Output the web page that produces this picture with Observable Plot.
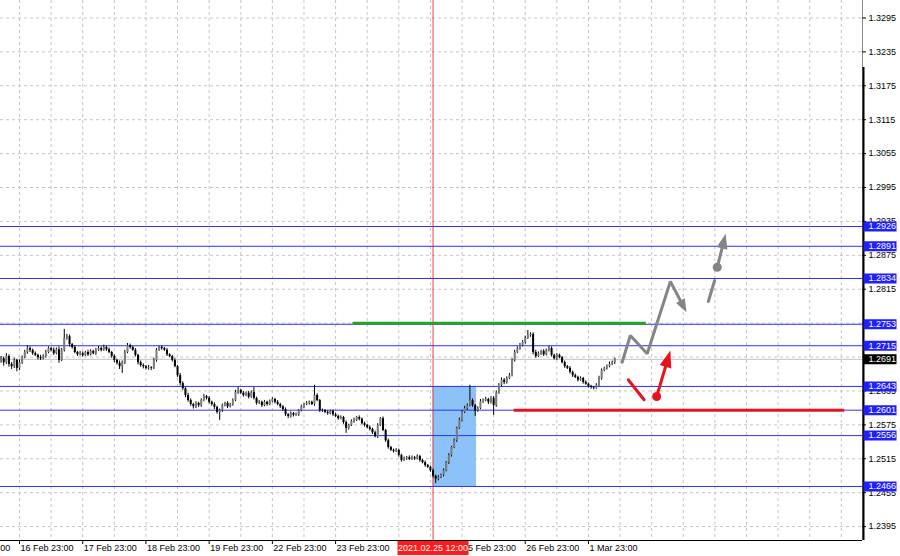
<!DOCTYPE html>
<html><head><meta charset="utf-8">
<script src="https://cdn.jsdelivr.net/npm/d3@7"></script>
<script src="https://cdn.jsdelivr.net/npm/@observablehq/plot@0.6"></script>
<style>html,body{margin:0;padding:0;background:#fff;} #chart{width:900px;height:556px;overflow:hidden}</style>
</head><body><div id="chart"></div>
<script>
// ---------- DATA (hourly candles, prices as 1.xxxx -> xxxx) ----------
const firstT = -7;          // hours relative to 16 Feb 23:00 (trading time)
const firstOpen = 2688;
const closes = [
  2692,2685,2696,2682, 2678,2689,2675,2685, 2694,2703,2710,2707, 2701,2698,2694,2692,
  2696,2703,2710,2707, 2701,2708,2689, 2707,2728,2731,2717, 2712,2703,2699,2701,
  2698,2703,2699,2705, 2701,2707,2710, 2707,2712,2708,2703, 2696,2689,2684,2678,
  2685,2703,2715,2712, 2707,2698,2685,2680, 2678,2675,2676, 2675,2689,2707,2712,
  2710,2707,2699,2696, 2689,2678,2662,2648, 2639,2627,2618,2611, 2607,2613,2609,
  2618,2625,2622,2615, 2611,2606,2597,2600, 2609,2613,2607,2611, 2618,2632,2636,2631,
  2627,2631,2624, 2632,2622,2613,2615, 2609,2615,2611,2616, 2620,2615,2611,2607,
  2602,2593,2590,2595, 2592,2593,2600, 2607,2611,2613,2615, 2611,2627,2618,2600,
  2600,2597,2595,2599, 2593,2590,2586,2588, 2579,2569,2574, 2581,2583,2588,2585,
  2577,2574,2570,2567, 2561,2554,2574,2586, 2565,2547,2535,2530, 2528,2530,2521,
  2512,2515,2517,2514, 2517,2515,2519,2512, 2508,2503,2500,2494, 2484,2479,2482,2486,
  2494,2508,2521, 2535,2547,2569,2583, 2597,2604,2609,2618, 2609,2600,2604,2616,
  2618,2620,2615,2622, 2609,2631,2645, 2654,2650,2657,2662, 2689,2703,2710,2715,
  2721,2728,2733,2735, 2703,2696,2701,2705, 2699,2707,2710, 2698,2692,2698,2694,
  2685,2678,2675,2668, 2662,2659,2654,2657, 2650,2647,2643,2641, 2640,2645,2657,
  2671,2675,2678,2682, 2685,2691
];
const wickUp = [
  4,3,5,3, 3,4,2,5, 3,4,5,3, 2,3,2,4, 3,4,3,2, 4,3,5, 3,16,4,3, 2,3,2,4,
  3,2,4,3, 2,3,4, 3,4,2,3, 2,3,2,4, 3,4,4,3, 2,3,2,3, 3,2,4, 2,4,3,2,
  3,2,3,2, 2,3,2,4, 3,2,4,3, 2,3,2, 3,4,2,3, 2,3,2,3, 3,2,3,2, 3,4,5,2,
  3,2,3, 3,9,2,3, 2,3,2,3, 3,2,3,2, 2,3,2,3, 2,3,2, 3,2,3,2, 2,18,3,2,
  3,2,3,2, 2,3,2,3, 2,3,2, 3,4,2,3, 2,3,2,3, 2,3,3,2, 3,2,3,2, 2,3,2,
  2,3,2,3, 3,2,3,2, 2,3,2,2, 3,2,3,2, 3,2,3, 2,3,2,4, 3,4,3,27, 3,2,3,4,
  3,4,2,3, 3,4,3, 4,3,3,4, 3,4,3,4, 3,4,9,3, 3,4,3,2, 3,2,4, 3,2,3,2,
  2,3,2,3, 2,3,2,3, 2,3,2,2, 2,3,4, 3,2,3,4, 3,2
];
const wickDn = [
  4,6,3,5, 5,3,6,4, 3,2,3,4, 3,2,4,3, 2,3,2,3, 3,2,5, 2,3,3,4, 3,2,3,2,
  3,2,3,2, 2,3,2, 3,2,3,2, 3,4,3,5, 12,3,2,3, 2,3,4,3, 4,3,3, 4,2,3,2,
  3,2,3,2, 3,2,3,4, 3,4,3,3, 4,3,3, 3,2,3,3, 3,4,3,14, 3,2,3,2, 3,2,3,2,
  3,2,3, 2,3,3,2, 3,2,3,2, 2,3,2,3, 3,3,4,3, 3,2,3, 2,3,2,3, 2,3,2,3,
  3,2,3,2, 3,2,3,2, 3,9,3, 2,3,2,3, 2,3,2,3, 3,2,3,2, 2,3,3,2, 3,2,3,
  3,2,3,2, 2,3,2,3, 2,3,2,3, 3,8,3,2, 3,2,3, 3,2,3,2, 3,2,3,2, 3,10,3,2,
  3,2,4,3, 17,3,2, 3,4,3,2, 2,3,2,3, 2,3,2,3, 4,3,2,3, 3,2,3, 3,2,3,2,
  2,3,2,3, 3,2,3,2, 3,2,3,3, 3,2,2, 3,2,3,2, 2,3
];
const levels = [1.2926, 1.2891, 1.2834, 1.2753, 1.2715, 1.2643, 1.2601, 1.2556, 1.2466];
const bid = 1.2691;
const yTicks = [1.2395,1.2455,1.2515,1.2575,1.2635,1.2695,1.2755,1.2815,1.2875,1.2935,1.2995,1.3055,1.3115,1.3175,1.3235,1.3295];
const dayLabels = ["15 Feb 23:00","16 Feb 23:00","17 Feb 23:00","18 Feb 23:00","19 Feb 23:00","22 Feb 23:00","23 Feb 23:00","24 Feb 23:00","25 Feb 23:00","26 Feb 23:00","1 Mar 23:00"];
const dayTicks = [-24,0,24,48,72,96,120,144,168,192,216];
const markerT = 157;
const markerLabel = "2021.02.25 12:00";
const zone = {t1: 157, t2: 173.5, top: 1.2643, bottom: 1.2466};
const greenLine = {t1: 126.6, t2: 238, y: 1.2755};
const redLine = {t1: 187.8, t2: 313.3, y: 1.2601};
const grayPath = [[228.8,1.26859],[231.9,1.27331],[238.3,1.27008],[247.1,1.28287],[253.2,1.27744]];
const grayPath2 = [[261.5,1.27933],[263.9,1.28305]];
const grayDot = [264.9,1.2854];
const grayArrow2 = [[264.9,1.2854],[268.1,1.29131]];
const redPath = [[231.1,1.26548],[237.1,1.26194]];
const redDot = [241.9,1.26252];
const redArrow = [[241.9,1.26252],[247.1,1.27066]];

// ---------- geometry ----------
const FW = 862, FH = 540;
const xmin = -7.213, xmax = 320.04;
const ymin = 1.23704, ymax = 1.33259;
const px = t => (t - xmin) / (xmax - xmin) * FW;
const py = v => (ymax - v) / (ymax - ymin) * FH;
const xAt = p => xmin + p / FW * (xmax - xmin);
const yAt = p => ymax - p / FH * (ymax - ymin);

function arrowParts(path, L, w) {
  const n = path.length;
  const a = path[n-2], b = path[n-1];
  const ax = px(a[0]), ay = py(a[1]), bx = px(b[0]), by = py(b[1]);
  const len = Math.hypot(bx-ax, by-ay);
  const ux = (bx-ax)/len, uy = (by-ay)/len;
  const nx = -uy, ny = ux;
  const Bx = bx - L*ux, By = by - L*uy;
  const head = [[bx,by],[Bx+w*nx,By+w*ny],[Bx-w*nx,By-w*ny]].map(([x,y]) => [xAt(x), yAt(y)]);
  const sx = bx - 0.6*L*ux, sy = by - 0.6*L*uy;
  const shaft = path.slice(0, n-1).concat([[xAt(sx), yAt(sy)]]);
  return {head, shaft};
}

const candles = closes.map((c, i) => {
  const o = i === 0 ? firstOpen : closes[i-1];
  const hi = Math.max(o, c) + wickUp[i];
  const lo = Math.min(o, c) - wickDn[i];
  return {t: firstT + i, open: 1 + o/10000, close: 1 + c/10000, high: 1 + hi/10000, low: 1 + lo/10000};
});
const bull = candles.filter(d => d.close >= d.open);
const bear = candles.filter(d => d.close < d.open);

const g1 = arrowParts(grayPath, 13, 5);
const g2 = arrowParts(grayArrow2, 15, 5.5);
const r1 = arrowParts(redArrow, 17, 6);
const gridT = d3.range(0, 320, 12);
const P = d => d[0], Q = d => d[1];
const FONT = "'Liberation Sans', Arial, sans-serif";
// tick labels entirely covered by a price box / the date box are not drawn (as in the terminal)
const boxed = levels.concat([bid]);
const tickText = yTicks.filter(v => boxed.every(b => Math.abs(b - v) > 0.0005));
const dayIdx = dayTicks.map((d, i) => i).filter(i => !(dayTicks[i] > markerT - 16 && dayTicks[i] <= markerT));

const chart = Plot.plot({
  width: 900, height: 556,
  marginLeft: 0, marginRight: 38, marginTop: 0, marginBottom: 16,
  x: {domain: [xmin, xmax], axis: null},
  y: {domain: [ymin, ymax], axis: null},
  style: {fontFamily: FONT, fontSize: "9px", background: "#fff", overflow: "hidden"},
  marks: [
    Plot.ruleY(yTicks, {stroke: "#c6c6c6", strokeDasharray: "3,3"}),
    Plot.ruleX(gridT, {stroke: "#c6c6c6", strokeDasharray: "3,3"}),
    Plot.rect([zone], {x1: "t1", x2: "t2", y1: "bottom", y2: "top", fill: "#8cc2f7"}),
    Plot.ruleX([markerT], {stroke: "#f04040", strokeWidth: 1}),
    Plot.ruleY([bid], {stroke: "#c0c0c0"}),
    Plot.ruleY(levels, {stroke: "#2f2fff", strokeWidth: 1}),
    Plot.ruleX(candles, {x: "t", y1: "low", y2: "high", stroke: "#000", strokeWidth: 1}),
    Plot.ruleX(bull, {x: "t", y1: "open", y2: "close", stroke: "#7c7c7c", strokeWidth: 2}),
    Plot.ruleX(bear, {x: "t", y1: "open", y2: "close", stroke: "#000", strokeWidth: 2}),
    Plot.ruleY([greenLine], {y: "y", x1: "t1", x2: "t2", stroke: "#22a52a", strokeWidth: 3}),
    Plot.ruleY([redLine], {y: "y", x1: "t1", x2: "t2", stroke: "#e8141c", strokeWidth: 3}),
    Plot.line(g1.shaft, {x: P, y: Q, stroke: "#858585", strokeWidth: 3, strokeLinejoin: "miter"}),
    Plot.line(g1.head, {x: P, y: Q, fill: "#858585", stroke: "none"}),
    Plot.line(grayPath2, {x: P, y: Q, stroke: "#858585", strokeWidth: 3}),
    Plot.dot([grayDot], {x: P, y: Q, r: 4.5, fill: "#858585"}),
    Plot.line(g2.shaft, {x: P, y: Q, stroke: "#858585", strokeWidth: 3}),
    Plot.line(g2.head, {x: P, y: Q, fill: "#858585", stroke: "none"}),
    Plot.line(redPath, {x: P, y: Q, stroke: "#e8141c", strokeWidth: 3}),
    Plot.dot([redDot], {x: P, y: Q, r: 4.5, fill: "#e8141c"}),
    Plot.line(r1.shaft, {x: P, y: Q, stroke: "#e8141c", strokeWidth: 3}),
    Plot.line(r1.head, {x: P, y: Q, fill: "#e8141c", stroke: "none"}),
    // axes frame
    Plot.ruleX([xmax], {stroke: "#888", strokeWidth: 1}),
    Plot.ruleX([xAt(863)], {y1: yAt(67), y2: ymin, stroke: "#000", strokeWidth: 2}),
    Plot.ruleY([ymin], {stroke: "#000", strokeWidth: 1}),
    Plot.ruleY(yTicks, {x1: xmax, x2: xAt(866), stroke: "#000"}),
    Plot.ruleX(dayTicks, {y1: ymin, y2: yAt(544), stroke: "#000"}),
    // price scale labels
    Plot.text(tickText, {y: d => d, text: d => d.toFixed(4), frameAnchor: "right", dx: 6, textAnchor: "start", fill: "#000", fontSize: 9}),
    Plot.ruleY(levels, {x1: xAt(863.5), x2: xAt(896.5), stroke: "#1f1fff", strokeWidth: 10}),
    Plot.text(levels, {y: d => d, text: d => d.toFixed(4), frameAnchor: "right", dx: 6, textAnchor: "start", fill: "#fff", fontSize: 9}),
    Plot.ruleY([bid], {x1: xAt(863.5), x2: xAt(896.5), stroke: "#000", strokeWidth: 10}),
    Plot.text([bid], {y: d => d, text: d => d.toFixed(4), frameAnchor: "right", dx: 6, textAnchor: "start", fill: "#fff", fontSize: 9}),
    // time labels
    Plot.text(dayIdx, {x: i => dayTicks[i], y: () => yAt(548), text: i => dayLabels[i], textAnchor: "start", dx: 1, fill: "#000", fontSize: 9}),
    Plot.ruleX([markerT], {y1: yAt(541), y2: yAt(555), stroke: "#ff1a1a", strokeWidth: 71}),
    Plot.text([markerT], {x: d => d, y: () => yAt(548), text: () => markerLabel, fill: "#fff", fontSize: 9})
  ]
});
document.getElementById("chart").appendChild(chart);
</script>
</body></html>
